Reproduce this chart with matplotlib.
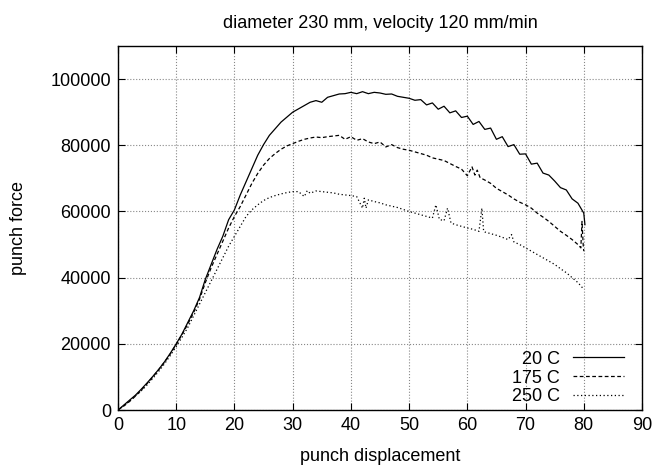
import matplotlib
matplotlib.use("Agg")
import matplotlib.pyplot as plt

plt.rcParams['font.family'] = ['Liberation Sans', 'DejaVu Sans']

# punch displacement (mm) and force for each temperature
x20 = [0, 1, 2, 3, 4, 5, 6, 7, 8, 9, 10, 11, 12, 13, 14, 15, 16, 17, 18, 19,
       20, 21, 22, 23, 24, 25, 26, 27, 28, 29, 30, 31, 32, 33, 34, 35, 36, 37, 38, 39,
       40, 41, 42, 43, 44, 45, 46, 47, 48, 49, 50, 51, 52, 53, 54, 55, 56, 57, 58, 59,
       60, 61, 62, 63, 64, 65, 66, 67, 68, 69, 70, 71, 72, 73, 74, 75, 76, 77, 78, 79,
       80, 80.2]
f20 = [0, 1.5, 3, 4.5, 6.3, 8.2, 10.2, 12.3, 14.6, 17.2, 20, 23, 26.5, 30, 34, 39.5,
       44, 48.5, 52.5, 57.5, 60.5, 65, 69, 73, 77, 80.2, 83, 85, 87, 88.5, 90, 91, 92,
       93, 93.5, 93.0, 94.5, 95, 95.5, 95.6, 96, 95.6, 96.2, 95.6, 96, 95.8, 95.4, 95.5,
       94.8, 94.5, 94.2, 93.6, 93.8, 92.2, 92.8, 90.9, 91.8, 89.8, 90.4, 88.4, 88.8, 86.3,
       87.2, 84.8, 85.2, 81.8, 82.6, 79.6, 80.2, 77.3, 77.4, 74.3, 74.6, 71.6, 71, 69.2,
       67.2, 66.5, 63.8, 62.5, 59.5, 56]

x175 = [0, 1, 2, 3, 4, 5, 6, 7, 8, 9, 10, 11, 12, 13, 14, 15, 16, 17, 18, 19,
        20, 21, 22, 23, 24, 25, 26, 27, 28, 29, 30, 31, 32, 33, 34, 35, 36, 37, 38, 39,
        40, 41, 42, 43, 44, 45, 46, 47, 48, 49, 50, 51, 52, 53, 54, 55, 56, 57, 58, 59,
        60, 60.8, 61.3, 61.7, 62.2, 63, 64, 65, 66, 67, 68, 69, 70, 71, 72, 73, 74, 75,
        76, 77, 78, 79, 79.5, 79.7, 79.9, 80]
f175 = [0, 1.2, 2.6, 4.2, 6.0, 8.0, 10.0, 12.2, 14.5, 17.0, 19.8, 22.8, 26, 29.5, 33.5,
        38.5, 43, 47, 51, 55, 58.5, 61.5, 65, 68.5, 71.5, 74, 76, 77.5, 78.8, 79.8, 80.5,
        81.2, 81.8, 82.2, 82.5, 82.3, 82.6, 82.8, 83, 81.8, 82.6, 81.5, 82, 81, 80.5, 81,
        79.5, 80.2, 79.3, 78.8, 78.5, 78, 77.5, 77, 76.2, 75.8, 75.4, 74.5, 73.6, 72.8,
        70.8, 73.5, 71, 72.5, 70.2, 69.5, 68.5, 67, 66, 65, 63.8, 62.8, 62, 61, 59.5,
        58.3, 57, 55.5, 54, 52.8, 51.5, 50, 49, 57, 50, 48]

x250 = [0, 1, 2, 3, 4, 5, 6, 7, 8, 9, 10, 11, 12, 13, 14, 15, 16, 17, 18, 19,
        20, 21, 22, 23, 24, 25, 26, 27, 28, 29, 30, 31, 32, 32.5, 33, 34, 35, 36, 37, 38,
        39, 40, 41, 42, 42.3, 42.6, 43, 44, 45, 46, 47, 48, 49, 50, 51, 52, 53, 54, 54.6,
        55.2, 56, 56.6, 57.2, 58, 59, 60, 61, 62, 62.5, 62.8, 63, 64, 65, 66, 67, 67.6,
        68, 69, 70, 71, 72, 73, 74, 75, 76, 77, 78, 79, 80]
f250 = [0, 1.3, 2.8, 4.3, 5.8, 7.6, 9.6, 11.7, 14, 16.5, 19.2, 22, 25, 28.5, 32, 35.5,
        39, 42.5, 46, 49.5, 52.5, 55.5, 58.5, 60.5, 62, 63.3, 64.2, 64.8, 65.3, 65.7, 66,
        66, 64.5, 66.3, 65.5, 66.2, 66, 65.8, 65.6, 65.2, 65, 64.8, 64.5, 61, 64, 61,
        63.5, 63, 62.6, 62, 61.6, 61.2, 60.6, 60, 59.5, 59, 58.5, 58, 62, 57.6, 57.2, 61,
        56.5, 56, 55.5, 55, 54.6, 54, 61, 54, 53.8, 53.3, 52.8, 52.2, 51.5, 53, 50.8, 50,
        49, 48, 47, 46, 45, 44, 42.7, 41.5, 40, 38.5, 36.5]

fig = plt.figure(figsize=(6.6, 4.68), dpi=100)
ax = fig.add_axes([0.1788, 0.1239, 0.7939, 0.7778])

ax.plot(x20, [v * 1000 for v in f20], color='black', lw=0.9, ls='-', label='20 C')
ax.plot(x175, [v * 1000 for v in f175], color='black', lw=0.9, ls=(0, (3, 2)), label='175 C')
ax.plot(x250, [v * 1000 for v in f250], color='black', lw=0.9, ls=(0, (1, 2)), label='250 C')

ax.set_xlim(0, 90)
ax.set_ylim(0, 110000)
ax.set_xticks(range(0, 91, 10))
ax.set_yticks(range(0, 100001, 20000))
ax.tick_params(direction='in', top=True, right=True, length=5, labelsize=13, pad=5)
ax.grid(True, ls=':', color='#888888', lw=0.8)
for s in ax.spines.values():
    s.set_linewidth(1.0)

ax.set_title('diameter 230 mm, velocity 120 mm/min', fontsize=13, pad=13)
ax.set_xlabel('punch displacement', fontsize=13, labelpad=10)
ax.set_ylabel('punch force', fontsize=13, labelpad=17)

ax.legend(loc='lower right', bbox_to_anchor=(0.973, 0.003), frameon=False,
          markerfirst=False, fontsize=13, handlelength=2.85, labelspacing=0.1,
          borderpad=0.2, borderaxespad=0.0, handletextpad=0.7)

fig.savefig('out.png', dpi=100)
